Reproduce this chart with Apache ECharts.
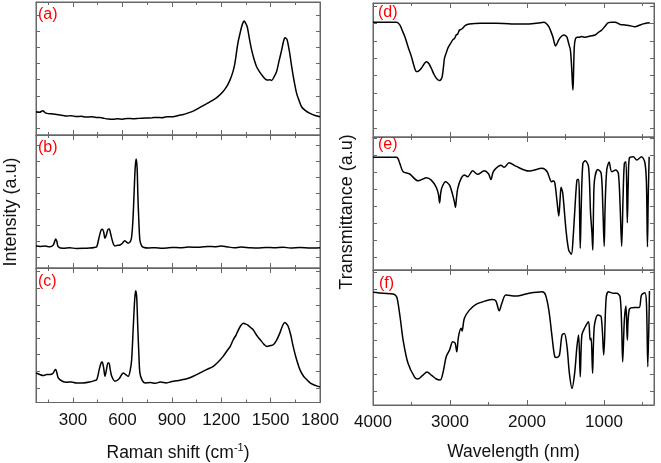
<!DOCTYPE html>
<html><head><meta charset="utf-8">
<script src="https://cdn.jsdelivr.net/npm/echarts@6/dist/echarts.min.js"></script>
<style>html,body{margin:0;padding:0;background:#fff}#c{width:661px;height:463px}</style>
</head><body><div id="c"></div>
<script>
// Raman spectra: [Raman shift (cm-1), intensity (a.u.)]
const ramanA = [[75,101],[95,98],[117,107],[130,96],[142,91],[170,88],[200,84],[230,80],[261,74],[290,77],[320,71],[350,73],[380,68],[410,70],[440,66],[464,66],[490,60],[515,56],[543,54],[570,57],[600,55],[630,59],[664,58],[700,60],[740,62],[780,64],[810,66],[840,64],[870,70],[907,70],[940,78],[970,84],[992,91],[1030,105],[1071,128],[1110,150],[1150,173],[1180,195],[1210,225],[1235,260],[1253,297],[1270,345],[1283,401],[1301,525],[1315,590],[1324,628],[1333,655],[1340,663],[1348,650],[1358,628],[1370,560],[1385,483],[1400,425],[1415,380],[1435,345],[1455,318],[1470,302],[1485,297],[1496,300],[1506,295],[1520,315],[1536,349],[1550,410],[1567,483],[1578,535],[1587,559],[1595,555],[1601,545],[1615,470],[1628,380],[1643,290],[1658,215],[1673,170],[1688,132],[1710,110],[1739,91],[1770,78],[1800,70]];
const ramanB = [[75,73],[100,70],[130,72],[160,68],[180,79],[188,100],[195,116],[202,100],[210,68],[241,58],[280,62],[320,57],[362,58],[400,60],[430,64],[444,68],[459,130],[470,170],[478,176],[486,160],[494,120],[502,140],[512,175],[520,178],[528,150],[535,120],[545,85],[555,73],[570,77],[585,79],[600,90],[614,106],[624,98],[635,89],[650,105],[656,130],[663,220],[670,379],[677,550],[683,613],[689,560],[694,379],[700,220],[706,110],[716,75],[726,65],[760,60],[800,62],[840,58],[868,60],[900,64],[950,62],[1000,66],[1071,65],[1120,70],[1160,68],[1200,72],[1233,68],[1280,62],[1320,66],[1374,62],[1420,60],[1470,64],[1520,62],[1577,65],[1620,60],[1680,63],[1740,60],[1800,62]];
const ramanC = [[75,90],[95,82],[119,74],[140,80],[160,80],[180,90],[188,105],[195,110],[202,90],[210,60],[235,40],[261,34],[290,36],[320,30],[362,30],[400,35],[430,44],[444,50],[459,110],[470,150],[477,156],[486,120],[494,70],[503,110],[512,150],[518,150],[526,110],[535,70],[555,40],[580,55],[605,90],[620,80],[635,70],[648,110],[656,170],[666,370],[675,540],[681,585],[687,540],[693,370],[700,200],[706,90],[720,45],[737,30],[770,32],[800,28],[830,35],[868,30],[900,38],[940,45],[969,50],[1000,58],[1030,70],[1071,90],[1110,110],[1152,130],[1175,150],[1190,165],[1212,190],[1240,230],[1255,250],[1273,290],[1290,318],[1300,340],[1318,374],[1335,390],[1344,386],[1360,380],[1380,362],[1394,350],[1420,310],[1445,280],[1460,262],[1476,250],[1500,255],[1516,260],[1535,285],[1556,330],[1575,380],[1587,394],[1597,385],[1607,370],[1622,320],[1637,250],[1655,180],[1678,110],[1700,70],[1719,50],[1740,30],[1759,20],[1780,12],[1800,6]];
// FTIR spectra: [wavenumber, transmittance (a.u.)]
const ftirD = [[4000,607],[3800,607],[3694,607],[3652,592],[3620,560],[3587,525],[3540,460],[3501,410],[3470,360],[3436,324],[3400,330],[3372,343],[3340,365],[3307,381],[3275,370],[3243,343],[3210,310],[3178,286],[3150,274],[3135,272],[3115,280],[3101,295],[3085,350],[3071,401],[3050,430],[3028,458],[3000,480],[2964,506],[2940,515],[2920,534],[2900,540],[2877,563],[2860,565],[2835,573],[2800,590],[2748,598],[2600,602],[2404,602],[2200,598],[1974,598],[1850,603],[1781,607],[1750,600],[1716,582],[1690,555],[1665,525],[1645,490],[1630,471],[1610,485],[1587,506],[1555,525],[1523,534],[1500,530],[1480,521],[1455,480],[1436,448],[1420,350],[1410,260],[1403,218],[1396,300],[1386,460],[1374,506],[1350,521],[1329,521],[1290,525],[1243,521],[1180,528],[1114,534],[1070,550],[1028,563],[985,585],[942,605],[900,607],[855,607],[790,595],[726,592],[660,587],[597,582],[540,590],[490,598],[440,603],[404,605]];
const ftirE = [[4000,587],[3694,587],[3652,551],[3609,502],[3523,489],[3415,449],[3307,467],[3243,453],[3178,411],[3150,370],[3135,320],[3120,380],[3101,414],[3058,443],[3006,424],[2964,365],[2940,320],[2929,293],[2915,350],[2899,405],[2855,463],[2813,483],[2770,473],[2706,508],[2641,487],[2555,508],[2500,490],[2468,457],[2440,500],[2404,522],[2339,541],[2297,528],[2232,555],[2146,535],[1974,506],[1803,522],[1738,502],[1681,443],[1660,450],[1639,438],[1610,330],[1587,242],[1570,340],[1557,411],[1535,375],[1493,160],[1458,43],[1423,19],[1400,120],[1381,258],[1351,453],[1329,457],[1318,300],[1308,53],[1295,300],[1274,551],[1243,567],[1200,531],[1174,258],[1157,150],[1145,43],[1135,300],[1123,453],[1080,516],[1036,493],[1015,300],[997,66],[985,300],[964,512],[933,559],[899,502],[848,512],[813,493],[790,300],[770,66],[752,350],[735,551],[714,561],[697,203],[684,450],[671,581],[619,590],[574,571],[512,590],[468,555],[448,434],[435,62],[425,350],[413,590]];
const ftirF = [[4000,581],[3867,575],[3738,571],[3694,555],[3674,516],[3643,418],[3609,300],[3545,163],[3458,81],[3415,71],[3351,94],[3299,112],[3243,94],[3178,71],[3126,65],[3093,104],[3049,202],[3006,241],[2964,290],[2933,281],[2912,231],[2890,319],[2855,369],[2843,353],[2813,428],[2748,476],[2662,510],[2533,531],[2448,539],[2404,531],[2361,472],[2326,516],[2275,565],[2146,559],[1974,575],[1803,584],[1759,565],[1716,476],[1674,319],[1639,202],[1609,198],[1578,212],[1545,329],[1514,339],[1480,261],[1449,104],[1415,16],[1381,104],[1351,261],[1329,329],[1308,84],[1287,329],[1243,378],[1200,408],[1179,300],[1166,310],[1148,104],[1126,378],[1080,447],[1036,437],[1003,212],[972,545],[942,584],[877,575],[835,575],[791,555],[770,378],[757,172],[735,418],[714,500],[697,300],[671,481],[597,492],[542,492],[512,565],[468,578],[448,516],[430,143],[409,588]];

const panelLabels = ['(a)','(b)','(c)','(d)','(e)','(f)'];
const ramanRange = [75, 1800];
const ftirRange = [350, 4000];

const FONT = 'Liberation Sans, Arial, sans-serif';
const AX = '#666';

const panels = [
  {data: ramanA, g: {left:36, top:2, width:284, height:133}, x: ramanRange, y: [-43, 781], ir:false, last:false, lab:{left:38, top:7}},
  {data: ramanB, g: {left:36, top:135, width:284, height:133}, x: ramanRange, y: [-64, 762], ir:false, last:false, lab:{left:38, top:140}},
  {data: ramanC, g: {left:36, top:268, width:284, height:135}, x: ramanRange, y: [-88, 722], ir:false, last:true, lab:{left:38, top:274}},
  {data: ftirD, g: {left:373, top:3, width:281, height:134}, x: ftirRange, y: [-52, 718], ir:true, last:false, lab:{left:378, top:5}},
  {data: ftirE, g: {left:373, top:137, width:281, height:133}, x: ftirRange, y: [-74, 706], ir:true, last:false, lab:{left:378, top:137}},
  {data: ftirF, g: {left:373, top:270, width:281, height:135}, x: ftirRange, y: [-82, 712], ir:true, last:true, lab:{left:379, top:276}}
];

const grids = [], xAxes = [], yAxes = [], series = [], titles = [];
panels.forEach((p, i) => {
  grids.push(Object.assign({show:true, borderColor:AX, borderWidth:1, backgroundColor:'transparent'}, p.g));
  const xBase = {
    type:'value', gridIndex:i, min:p.x[0], max:p.x[1], inverse:p.ir,
    splitNumber: p.ir ? 4 : 6,
    splitLine:{show:false},
    axisLine:{show:true, onZero:false, lineStyle:{color:AX, width:1}},
    axisTick:{show:true, inside:true, length:5, lineStyle:{color:AX}},
    minorTick:{show:true, splitNumber:2, length:3, lineStyle:{color:AX}},
    minorSplitLine:{show:false}
  };
  xAxes.push(Object.assign({}, xBase, {
    position:'bottom',
    axisLabel:{show:p.last, showMinLabel:false, color:'#111', fontSize:17, fontFamily:FONT, margin:9,
      formatter: v => String(v)},
    name: p.last ? (p.ir ? 'Wavelength (nm)' : 'Raman shift (cm{sup|-1})') : '',
    nameLocation:'middle', nameGap: p.ir ? 38 : 40,
    nameTextStyle:{color:'#111', fontSize:17.5, fontFamily:FONT,
      rich:{sup:{fontSize:11, verticalAlign:'top', color:'#111', fontFamily:FONT, padding:[0,0,10,0]}}}
  }));
  xAxes.push(Object.assign({}, xBase, {position:'top', axisLabel:{show:false}}));
  const yBase = {
    type:'value', gridIndex:i, min:p.y[0], max:p.y[1], splitNumber:8,
    splitLine:{show:false},
    axisLine:{show:true, onZero:false, lineStyle:{color:AX, width:1}},
    axisTick:{show:true, inside:true, length:4, lineStyle:{color:AX}},
    axisLabel:{show:false}
  };
  yAxes.push(Object.assign({}, yBase, {position:'left'}));
  yAxes.push(Object.assign({}, yBase, {position:'right'}));
  series.push({
    type:'line', xAxisIndex:2*i, yAxisIndex:2*i, data:p.data,
    showSymbol:false, symbol:'none', smooth:0.3, animation:false,
    lineStyle:{color:'#000', width:1.5}
  });
  titles.push({text:panelLabels[i], left:p.lab.left, top:p.lab.top, padding:0,
    textStyle:{color:'#ff0000', fontSize:16, fontWeight:'normal', fontFamily:FONT}});
});

const chart = echarts.init(document.getElementById('c'), null, {renderer:'canvas'});
chart.setOption({
  backgroundColor:'#fff',
  animation:false,
  title: titles,
  grid: grids,
  xAxis: xAxes,
  yAxis: yAxes,
  series: series,
  graphic: [
    {type:'text', rotation:Math.PI/2, x:11, y:212,
     style:{text:'Intensity (a.u)', fill:'#111', font:'18px ' + FONT, align:'center', verticalAlign:'middle'}},
    {type:'text', rotation:Math.PI/2, x:347, y:212,
     style:{text:'Transmittance (a.u)', fill:'#111', font:'18px ' + FONT, align:'center', verticalAlign:'middle'}}
  ]
});
</script>
</body></html>
